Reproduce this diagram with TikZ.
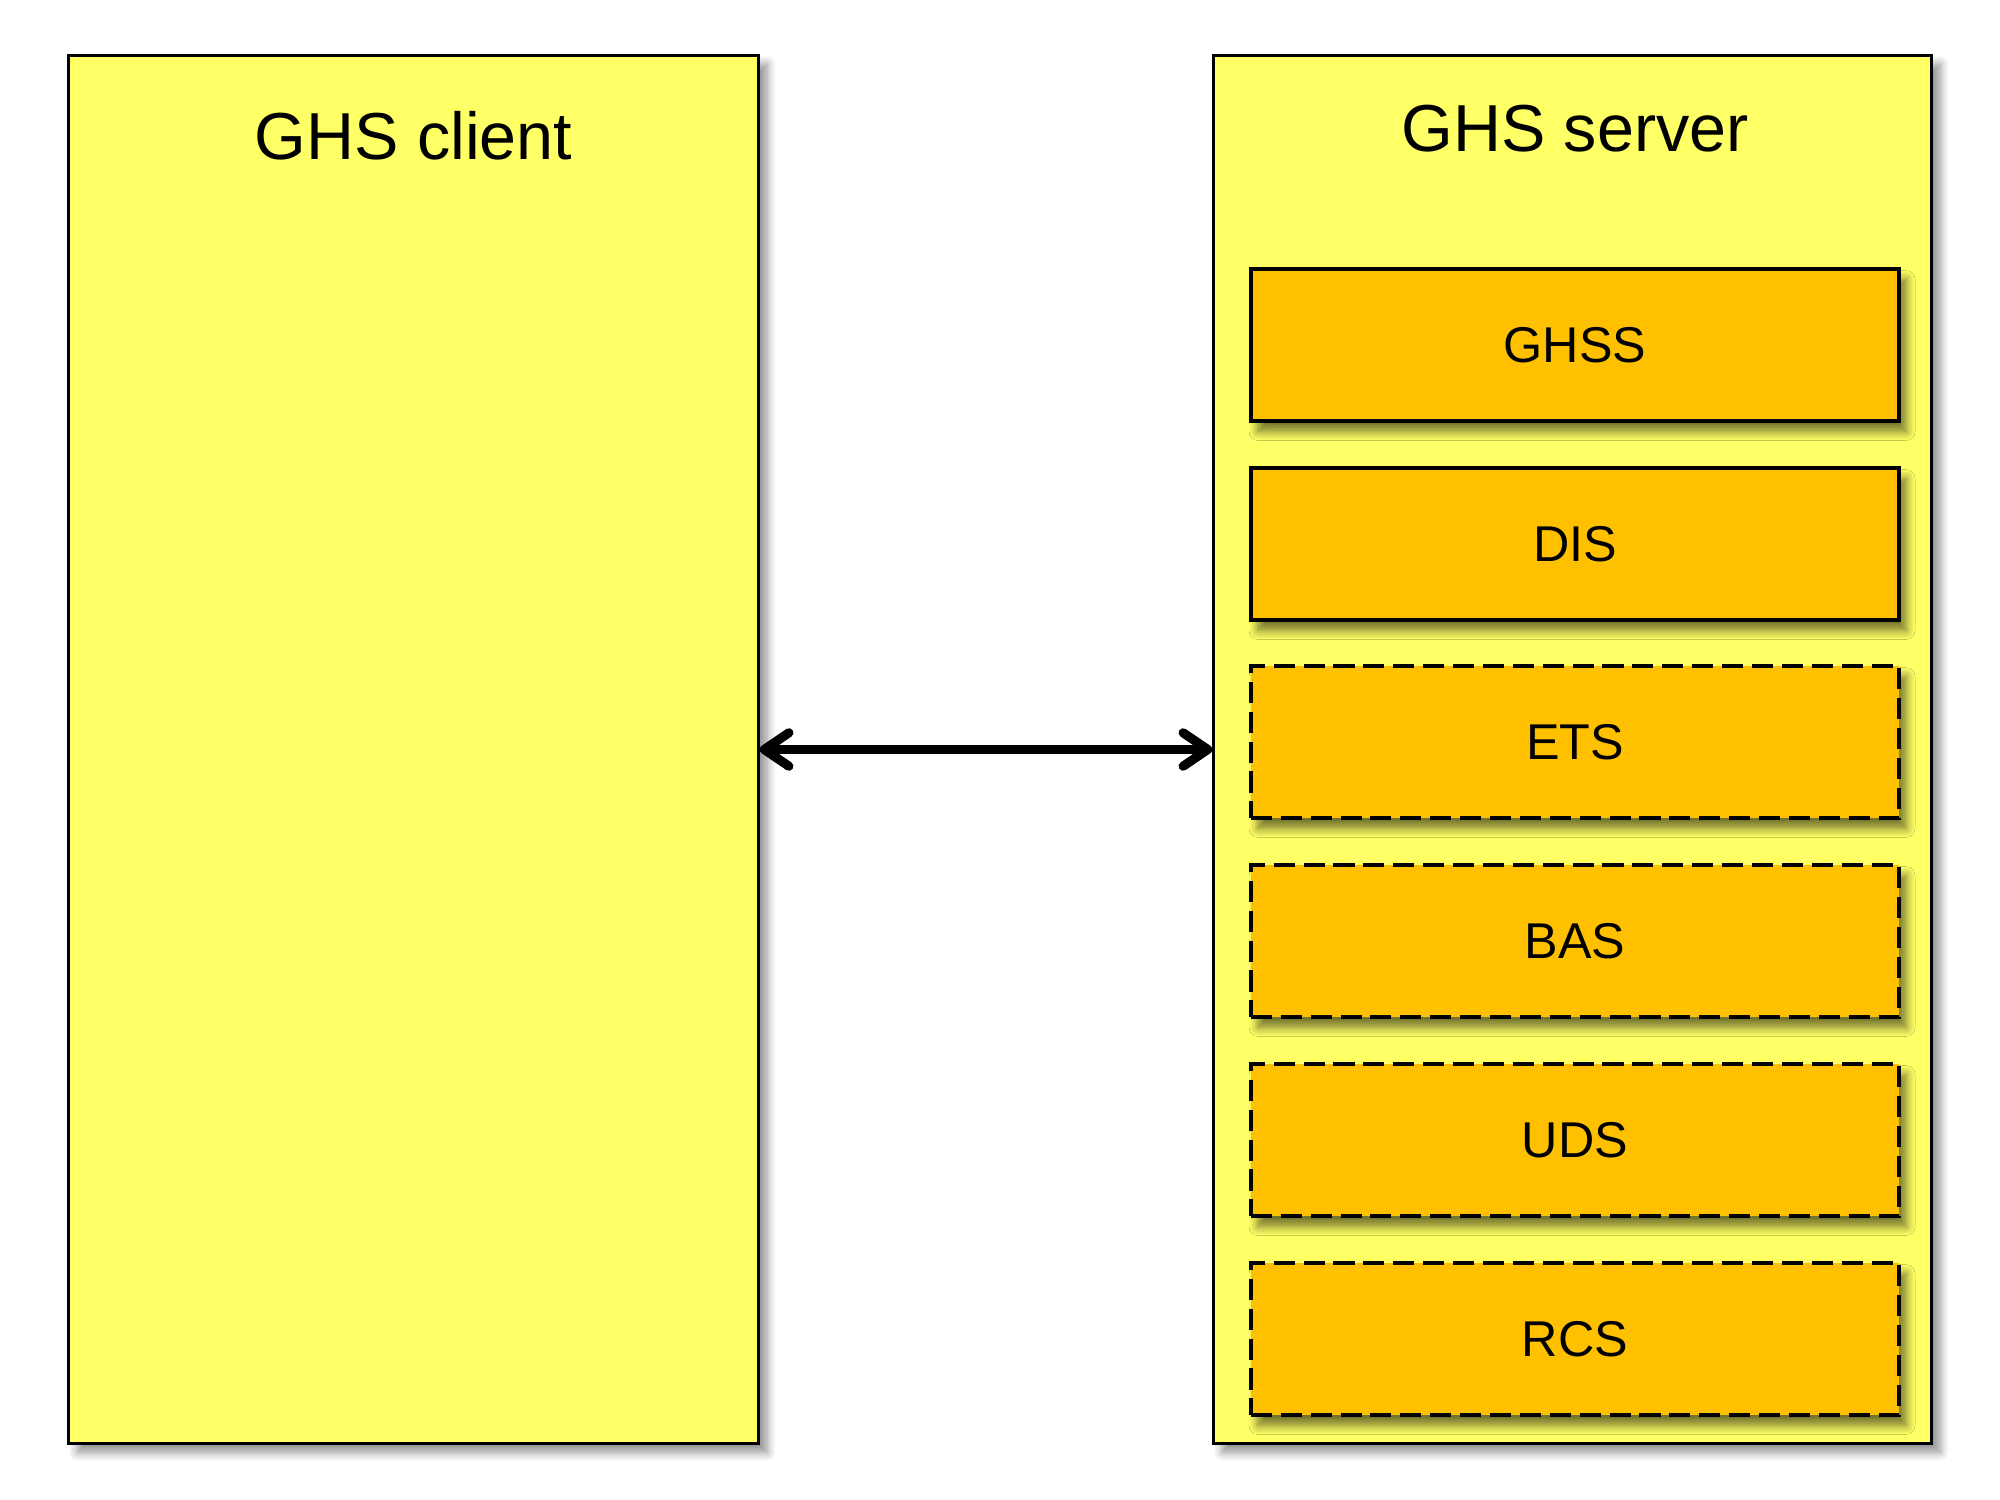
\documentclass[tikz,border=0pt]{standalone}
\usepackage{fontspec}
\setmainfont{Liberation Sans}
\usetikzlibrary{arrows.meta,shadows.blur}
\definecolor{paleyellow}{HTML}{FFFF66}
\definecolor{amber}{HTML}{FFC000}
\tikzset{
  outerbox/.style={draw=black, line width=0.85pt, fill=paleyellow, minimum height=13.87cm, inner sep=0pt,
    blur shadow={shadow xshift=2.5pt, shadow yshift=-2.5pt, shadow blur steps=8, shadow blur radius=2.5pt, shadow opacity=45}},
  innerbox/.style={draw=black, line width=1pt, fill=amber, minimum width=6.48cm, minimum height=1.52cm, inner sep=0pt,
    font=\fontsize{14.3}{16}\selectfont,
    blur shadow={shadow xshift=2pt, shadow yshift=-3pt, shadow blur steps=8, shadow blur radius=2.5pt, shadow opacity=55}},
  optbox/.style={innerbox, dash pattern=on 6pt off 2.5pt},
  title/.style={font=\fontsize{18.9}{22}\selectfont, inner sep=0pt},
  link/.style={line width=2.6pt, {Straight Barb[length=7pt,width=9.5pt,line cap=round,line join=round]}-{Straight Barb[length=7pt,width=9.5pt,line cap=round,line join=round]}}
}
\begin{document}
\begin{tikzpicture}[x=0.01cm,y=-0.01cm]
\useasboundingbox (0,0) rectangle (2000,1500);
\node[outerbox, minimum width=6.89cm] (client) at (413.5,749.5) {};
\node[outerbox, minimum width=7.17cm] (server) at (1572.5,749.5) {};
\node[title] (clienttitle) at (413.5,136) {GHS client};
\node[title] (servertitle) at (1575,129) {GHS server};
\node[innerbox] (ghss) at (1575,345) {GHSS};
\node[innerbox] (dis) at (1575,544) {DIS};
\node[optbox] (ets) at (1575,742) {ETS};
\node[optbox] (bas) at (1575,941) {BAS};
\node[optbox] (uds) at (1575,1140) {UDS};
\node[optbox] (rcs) at (1575,1339) {RCS};
\draw[link] (client.east) -- (server.west);
\end{tikzpicture}
\end{document}
